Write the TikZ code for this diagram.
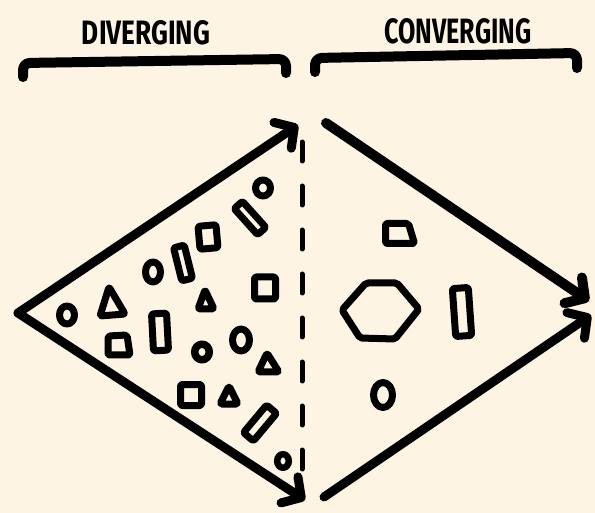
\documentclass[tikz,border=0pt]{standalone}
\usepackage{fontspec}
\setmainfont{Fira Sans}
\usetikzlibrary{arrows.meta}
\definecolor{paper}{RGB}{253,244,227}
\tikzset{
  shp/.style={line width=7pt, line join=round, line cap=round},
  brk/.style={line width=10pt, line cap=round, line join=round, rounded corners=7pt},
  bigarrow/.style={line width=9pt, line cap=round,
    -{Straight Barb[length=14pt, width=31pt, round]}},
  divider/.style={line width=5pt, line cap=round, dash pattern=on 19pt off 25pt},
  title/.style={inner sep=0pt, font=\bfseries}
}
\begin{document}
\begin{tikzpicture}[x=1pt, y=-1pt]
\fill[paper] (0,0) rectangle (595,513);
\useasboundingbox (0,0) rectangle (595,513);

% titles
\node[title] (tdiv) at (146,33) {\resizebox{128pt}{24pt}{DIVERGING}};
\node[title] (tconv) at (458,31) {\resizebox{147pt}{25pt}{CONVERGING}};

% brackets
\draw[brk] (23,77) -- (23,63) -- (286,59) -- (286,73);
\draw[brk] (315,72) -- (315,58) -- (577,53) -- (577,68);

% coordinates of the big arrows
\coordinate (apex) at (18,313);
\coordinate (tipLU) at (298,125);
\coordinate (tipLD) at (305,500);
\coordinate (startRU) at (326,123);
\coordinate (tipRU) at (589,301);
\coordinate (startRD) at (324,497);
\coordinate (tipRD) at (591,315);
\coordinate (divTop) at (302,142);
\coordinate (divBot) at (302,495);

\draw[bigarrow] (apex) -- (tipLU);
\draw[bigarrow] (apex) -- (tipLD);
\draw[bigarrow, line width=10pt] (startRU) -- (tipRU);
\draw[bigarrow] (startRD) -- (tipRD);
\draw[divider] (divTop) -- (divBot);

% ---- diverging shapes ----
% circles / ellipses
\draw[shp] (263,188) ellipse [x radius=7.5, y radius=8];
\draw[shp] (153,272) ellipse [x radius=7.5, y radius=10];
\draw[shp] (67,315) ellipse [x radius=7.5, y radius=9];
\draw[shp, line width=7.5pt] (202,352) ellipse [x radius=7.3, y radius=7.8];
\draw[shp] (241,340) ellipse [x radius=8.5, y radius=11];
\draw[shp, line width=6.5pt] (283,461) ellipse [x radius=5.8, y radius=6.8];

% rectangles
\draw[shp, rounded corners=2pt, shift={(250,218)}, rotate=-48] (-17.5,-5.5) rectangle (17.5,5.5);
\draw[shp, rounded corners=2pt, shift={(183,263)}, rotate=14] (-5.5,-17) rectangle (5.5,17);
\draw[shp, rounded corners=2pt, shift={(260,423)}, rotate=50] (-18,-6.5) rectangle (18,6.5);
\draw[shp, rounded corners=2pt, shift={(160,332)}, rotate=3] (-7.5,-18.5) rectangle (7.5,18.5);
\draw[shp, rounded corners=2pt, shift={(208,237)}, rotate=5] (-9,-11.5) rectangle (9,11.5);
\draw[shp, rounded corners=2pt, shift={(265,288)}] (-10.5,-11) rectangle (10.5,11);
\draw[shp, rounded corners=2pt, shift={(191,395)}] (-10.5,-10.5) rectangle (10.5,10.5);
\draw[shp, rounded corners=2pt, shift={(118,345)}] (-10,-9) -- (9,-10) -- (12,10) -- (-10,10) -- cycle;

% triangles
\draw[shp, rounded corners=2pt, shift={(112,302)}] (-12,14) -- (13,12) -- (-3,-15) -- cycle;
\draw[shp, rounded corners=1.5pt, shift={(206,300)}] (-8,9) -- (8,9) -- (-1,-10) -- cycle;
\draw[shp, rounded corners=1.5pt, shift={(268,363)}] (-10,9) -- (11,9) -- (-1,-10) -- cycle;
\draw[shp, rounded corners=1.5pt, shift={(229,396)}] (-9,8) -- (9,8) -- (0,-10) -- cycle;

% ---- converging shapes ----
\draw[shp, rounded corners=2pt] (385.5,223.5) -- (408.5,223.5) -- (414.5,243.5) -- (385.5,243.5) -- cycle;
\draw[shp, rounded corners=2pt] (342,310) -- (366,283) -- (397,283) -- (419,309) -- (395,339) -- (360,338) -- cycle;
\draw[shp, rounded corners=2pt, shift={(462,312)}, rotate=4] (-8,-24) rectangle (8,24);
\draw[shp] (383,395) ellipse [x radius=9.5, y radius=12.5];
\end{tikzpicture}
\end{document}
